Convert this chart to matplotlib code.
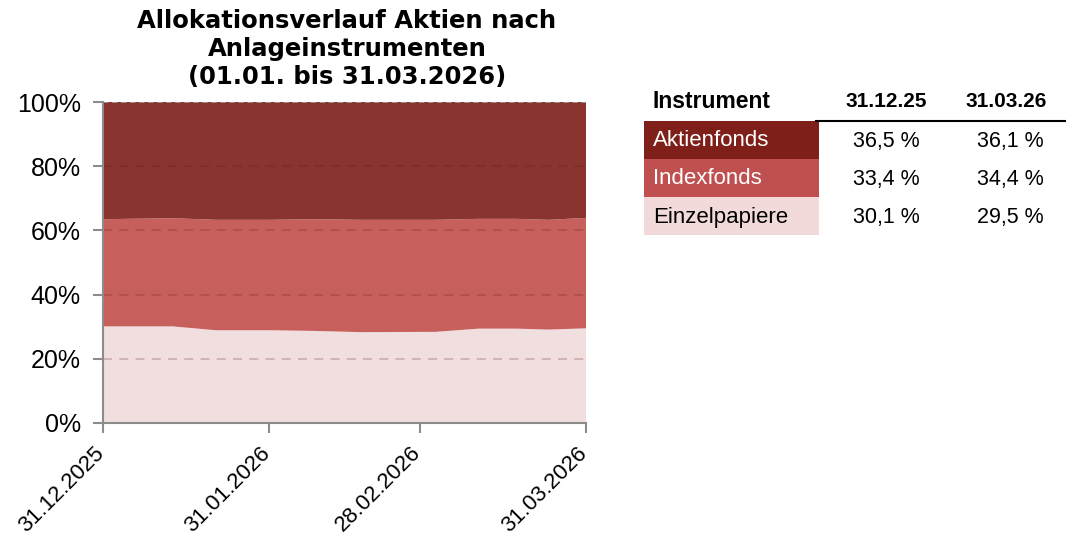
import matplotlib
matplotlib.use("Agg")
import matplotlib.pyplot as plt
import matplotlib.transforms as mtransforms
import pandas as pd

# --- Daten ---
dates = pd.to_datetime([
    "2025-12-31", "2026-01-13", "2026-01-21", "2026-01-31", "2026-02-08", "2026-02-17",
    "2026-03-03", "2026-03-11", "2026-03-18", "2026-03-24", "2026-03-31",
])
einzelpapiere = [30.1, 30.1, 28.9, 28.9, 28.7, 28.3, 28.4, 29.4, 29.4, 29.1, 29.5]
indexfonds = [33.4, 33.7, 34.4, 34.4, 34.8, 35.0, 34.9, 34.2, 34.2, 34.2, 34.4]
aktienfonds = [36.5, 36.2, 36.7, 36.7, 36.5, 36.7, 36.7, 36.4, 36.4, 36.7, 36.1]

tick_dates = pd.to_datetime(["2025-12-31", "2026-01-31", "2026-02-28", "2026-03-31"])

table_rows = ["Aktienfonds", "Indexfonds", "Einzelpapiere"]
table_cols = ["31.12.25", "31.03.26"]
table_start = ["36,5 %", "33,4 %", "30,1 %"]
table_end = ["36,1 %", "34,4 %", "29,5 %"]

# --- Farben ---
AREA_COLORS = ["#f1dede", "#c7605d", "#8a3430"]
CELL_COLORS = ["#7e1f1a", "#c05050", "#f2dada"]
CELL_TEXT = ["white", "white", "black"]

W, H = 1066, 541
fig = plt.figure(figsize=(W / 100, H / 100), dpi=100)
ax = fig.add_axes([103 / W, 1 - 423 / H, (586 - 103) / W, (423 - 102) / H])

ax.stackplot(dates, einzelpapiere, indexfonds, aktienfonds, colors=AREA_COLORS, linewidth=0)

ax.set_xlim(tick_dates[0], tick_dates[-1])
ax.set_ylim(0, 100)
ax.set_yticks([0, 20, 40, 60, 80, 100])
ax.set_yticklabels([f"{v}%" for v in range(0, 101, 20)])
ax.set_xticks(tick_dates)
ax.set_xticklabels([d.strftime("%d.%m.%Y") for d in tick_dates], rotation=45, ha="right")

for v in [20, 40, 60, 80]:
    ax.axhline(v, color="#5a1010", alpha=0.22, lw=1.3, ls=(0, (5, 4)), zorder=3)
ax.axhline(100, color="#999999", lw=1.3, ls=(0, (3, 2)), zorder=3)

for s in ["top", "right"]:
    ax.spines[s].set_visible(False)
for s in ["left", "bottom"]:
    ax.spines[s].set_color("#8c8c8c")
    ax.spines[s].set_linewidth(1.5)
    ax.spines[s].set_zorder(4)
ax.tick_params(axis="both", colors="#8c8c8c", width=1.5, length=7, labelsize=18,
               labelcolor="black")
ax.tick_params(axis="y", pad=9)
ax.tick_params(axis="x", pad=7, labelsize=16)
shift = mtransforms.ScaledTranslation(5 / 100, 0, fig.dpi_scale_trans)
for lab in ax.get_xticklabels():
    lab.set_transform(lab.get_transform() + shift)
for lab in ax.get_xticklabels() + ax.get_yticklabels():
    lab.set_fontfamily("Liberation Sans")

fig.text(347 / W, 1 - 49 / H,
         "Allokationsverlauf Aktien nach\nAnlageinstrumenten\n(01.01. bis 31.03.2026)",
         ha="center", va="center", fontsize=17.5, fontweight="bold", family="DejaVu Sans",
         linespacing=1.22)

# --- Tabelle ---
def px(x, y):
    return x / W, 1 - y / H

hdr_y = 102
fig.text(*px(653, hdr_y), "Instrument", ha="left", va="center", fontsize=16.5,
         fontweight="bold", family="Liberation Sans")
for cx, c in zip([886, 1006], table_cols):
    fig.text(*px(cx, hdr_y), c, ha="center", va="center", fontsize=15, fontweight="bold",
             family="Liberation Sans")
fig.add_artist(plt.Line2D([816 / W, 1066 / W], [1 - 121 / H, 1 - 121 / H],
                          color="black", lw=1.5, transform=fig.transFigure))

row_top = [121, 159, 197]
row_h = 38
for i, name in enumerate(table_rows):
    y0 = row_top[i]
    fig.add_artist(plt.Rectangle((644 / W, 1 - (y0 + row_h) / H), (819 - 644) / W, row_h / H,
                                 color=CELL_COLORS[i], transform=fig.transFigure, lw=0))
    yc = y0 + row_h / 2 + 1
    fig.text(*px(653, yc), name, ha="left", va="center", fontsize=16, color=CELL_TEXT[i],
             family="Liberation Sans")
    fig.text(*px(886, yc), table_start[i], ha="center", va="center", fontsize=15.5,
             family="Liberation Sans")
    fig.text(*px(1010, yc), table_end[i], ha="center", va="center", fontsize=15.5,
             family="Liberation Sans")

fig.savefig("out.png", dpi=100)
